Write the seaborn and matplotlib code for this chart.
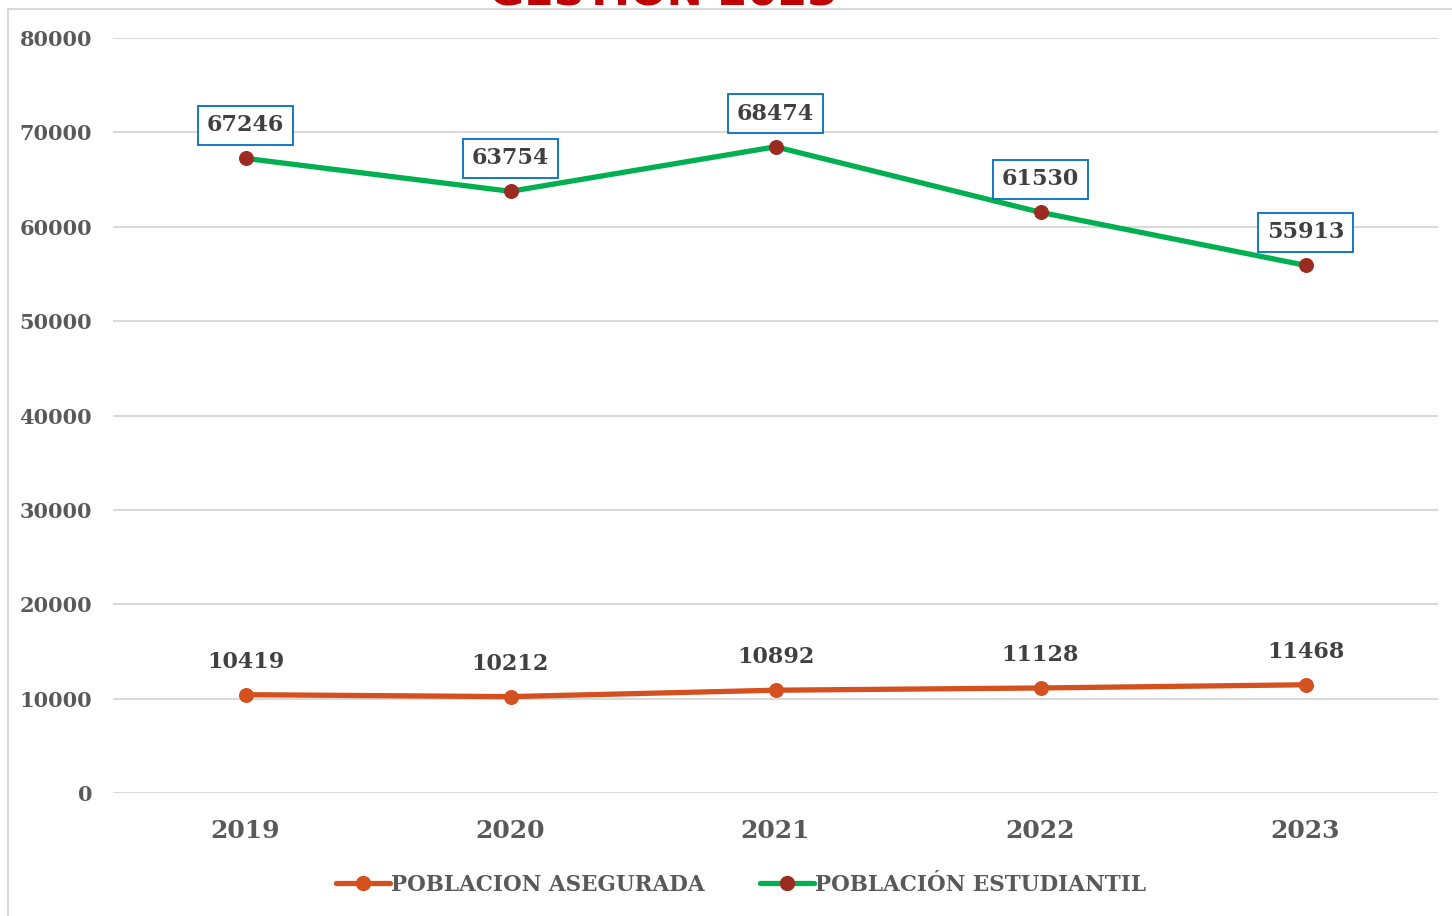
import numpy as np
import pandas as pd
import matplotlib
matplotlib.use("Agg")
import matplotlib.pyplot as plt
import seaborn as sns
from matplotlib.lines import Line2D
from matplotlib.patches import Rectangle

# ── Data ─────────────────────────────────────────────
years = ["2019", "2020", "2021", "2022", "2023"]
asegurada = [10419, 10212, 10892, 11128, 11468]
estudiantil = [67246, 63754, 68474, 61530, 55913]
series_names = ["POBLACION ASEGURADA", "POBLACIÓN ESTUDIANTIL"]
title = "GESTION 2023"

COLORS = {
    "asegurada": "#D4501E",
    "estudiantil": "#00B050",
    "est_marker": "#9B2B20",
    "text": "#595959",
    "label": "#404040",
    "grid": "#D9D9D9",
    "box": "#0070C0",
}

sns.set_theme(style="white")
plt.rcParams["font.family"] = ["DejaVu Serif"]

df = pd.DataFrame({"year": years, "asegurada": asegurada, "estudiantil": estudiantil})

fig = plt.figure(figsize=(14.52, 9.16), dpi=100)
ax = fig.add_axes([113 / 1452, 1 - 793 / 916, 1325 / 1452, 755 / 916])

# outer chart frame
fig.patches.append(Rectangle((8 / 1452, -0.1), 1.2, 1 - 9 / 916 + 0.1,
                             transform=fig.transFigure, fill=False,
                             edgecolor=COLORS["grid"], linewidth=1.5))

sns.lineplot(data=df, x="year", y="asegurada", ax=ax, color=COLORS["asegurada"],
             linewidth=3.8, marker="o", markersize=10,
             markerfacecolor=COLORS["asegurada"], markeredgecolor=COLORS["asegurada"])
sns.lineplot(data=df, x="year", y="estudiantil", ax=ax, color=COLORS["estudiantil"],
             linewidth=3.8, marker="o", markersize=10,
             markerfacecolor=COLORS["est_marker"], markeredgecolor=COLORS["est_marker"])

# data labels
for i, v in enumerate(asegurada):
    ax.annotate(f"{v}", (i, v), xytext=(0, 33), textcoords="offset pixels",
                ha="center", va="center", fontsize=16, fontweight="bold",
                color=COLORS["label"])
for i, v in enumerate(estudiantil):
    ax.annotate(f"{v}", (i, v), xytext=(0, 33), textcoords="offset pixels",
                ha="center", va="center", fontsize=16, fontweight="bold",
                color=COLORS["label"],
                bbox=dict(boxstyle="square,pad=0.38", facecolor="white",
                          edgecolor=COLORS["box"], linewidth=1.3))

ax.set_xlim(-0.5, 4.5)
ax.set_ylim(0, 80000)
ax.set_yticks(np.arange(0, 80001, 10000))
ax.yaxis.grid(True, color=COLORS["grid"], linewidth=1.5)
ax.xaxis.grid(False)
for s in ax.spines.values():
    s.set_visible(False)
ax.set_xlabel("")
ax.set_ylabel("")
ax.tick_params(axis="y", pad=15, length=0, labelsize=15, labelcolor=COLORS["text"])
ax.tick_params(axis="x", pad=19, length=0, labelsize=18, labelcolor=COLORS["text"])
for lab in ax.get_yticklabels() + ax.get_xticklabels():
    lab.set_fontweight("bold")

# legend
handles = [
    Line2D([], [], color=COLORS["asegurada"], linewidth=3.8, marker="o", markersize=10,
           markerfacecolor=COLORS["asegurada"], markeredgecolor=COLORS["asegurada"]),
    Line2D([], [], color=COLORS["estudiantil"], linewidth=3.8, marker="o", markersize=10,
           markerfacecolor=COLORS["est_marker"], markeredgecolor=COLORS["est_marker"]),
]
leg = fig.legend(handles, series_names, loc="center", ncol=2,
                 bbox_to_anchor=(741 / 1452, 1 - 885 / 916), frameon=False,
                 prop={"size": 15.5, "weight": "bold"}, handlelength=2.5,
                 handletextpad=0.05, columnspacing=2.6)
for t in leg.get_texts():
    t.set_color(COLORS["text"])

# title, clipped at the top edge like the source
fig.text(663 / 1452, 1 - 6 / 916, title, ha="center", va="baseline",
         fontsize=31, fontweight="bold", color="#C00000", family="DejaVu Sans")

fig.savefig("out.png", dpi=100)
plt.close(fig)
